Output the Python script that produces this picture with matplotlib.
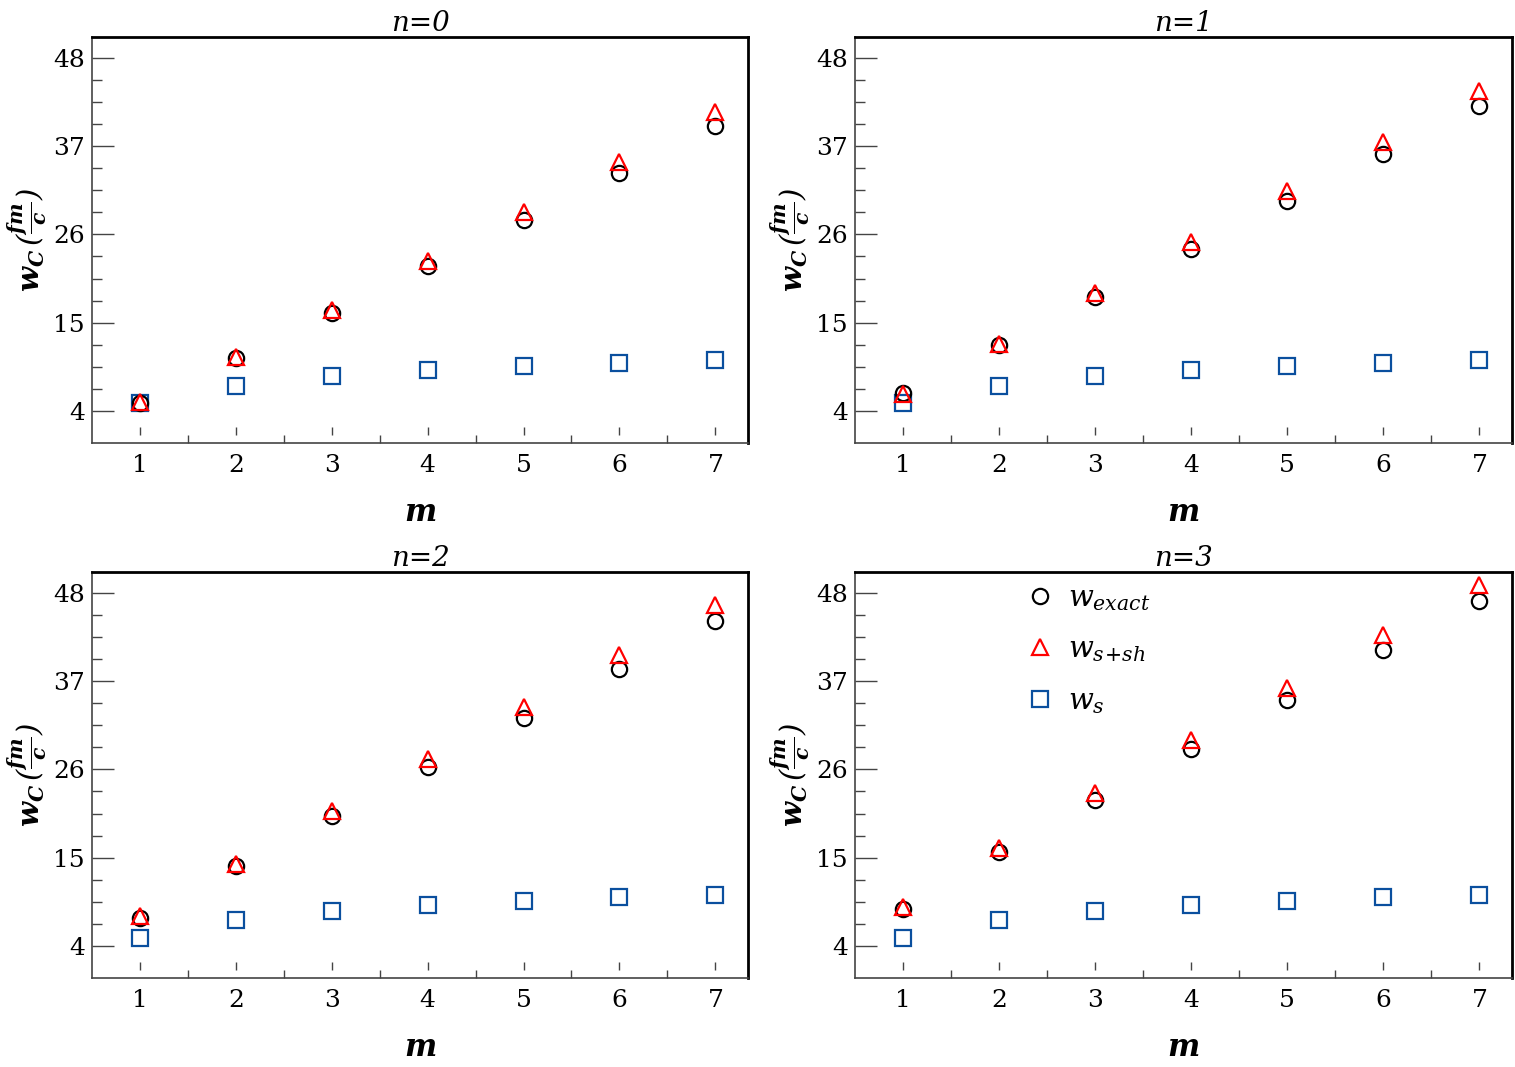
import matplotlib
matplotlib.use("Agg")
import matplotlib.pyplot as plt
from matplotlib.ticker import FixedLocator

plt.rcParams["font.family"] = "DejaVu Serif"
plt.rcParams["mathtext.fontset"] = "custom"
plt.rcParams["mathtext.rm"] = "DejaVu Serif:italic"
plt.rcParams["mathtext.it"] = "DejaVu Serif:italic"
plt.rcParams["mathtext.bf"] = "DejaVu Serif:italic:bold"

m = [1, 2, 3, 4, 5, 6, 7]
y_ticks = [4, 15, 26, 37, 48]
titles = ["n=0", "n=1", "n=2", "n=3"]

# w_exact
exact_n0 = [5.0, 10.6, 16.2, 22.1, 27.8, 33.7, 39.5]
exact_n1 = [6.2, 12.2, 18.2, 24.2, 30.2, 36.0, 42.0]
exact_n2 = [7.5, 14.0, 20.2, 26.3, 32.4, 38.5, 44.5]
exact_n3 = [8.6, 15.7, 22.2, 28.6, 34.7, 40.9, 47.0]

# w_s+sh
ssh_n0 = [5.1, 10.7, 16.6, 22.7, 28.8, 35.0, 41.3]
ssh_n1 = [6.1, 12.4, 18.7, 25.1, 31.4, 37.5, 43.9]
ssh_n2 = [7.7, 14.2, 20.8, 27.3, 33.8, 40.2, 46.5]
ssh_n3 = [8.9, 16.2, 23.1, 29.7, 36.2, 42.7, 49.0]

# w_s
s_n0 = [5.0, 7.1, 8.4, 9.1, 9.6, 10.0, 10.4]
s_n1 = [5.0, 7.1, 8.4, 9.1, 9.6, 10.0, 10.4]
s_n2 = [5.0, 7.2, 8.4, 9.1, 9.6, 10.1, 10.4]
s_n3 = [5.0, 7.2, 8.4, 9.1, 9.6, 10.1, 10.4]

exact_all = [exact_n0, exact_n1, exact_n2, exact_n3]
ssh_all = [ssh_n0, ssh_n1, ssh_n2, ssh_n3]
s_all = [s_n0, s_n1, s_n2, s_n3]

fig = plt.figure(figsize=(15.15, 10.67), dpi=100)

# eksen konumlari (sol, alt, genislik, yukseklik)
kutular = [
    (0.0607, 0.5848, 0.4330, 0.3805),
    (0.5644, 0.5848, 0.4336, 0.3805),
    (0.0607, 0.0834, 0.4330, 0.3805),
    (0.5644, 0.0834, 0.4336, 0.3805),
]

# ara tikler: sadece ana tikler arasinda
y_minor = []
for a, b in zip(y_ticks[:-1], y_ticks[1:]):
    adim = (b - a) / 4
    y_minor += [a + adim, a + 2 * adim, a + 3 * adim]
x_minor = [x + 0.5 for x in m[:-1]]

gri = "#444444"

for i, kutu in enumerate(kutular):
    ax = fig.add_axes(kutu)

    ax.plot(m, exact_all[i], linestyle="none", marker="o", markersize=11,
            markerfacecolor="none", markeredgecolor="black", markeredgewidth=1.6,
            label=r"$w_{exact}$", zorder=3)
    ax.plot(m, ssh_all[i], linestyle="none", marker="^", markersize=12,
            markerfacecolor="none", markeredgecolor="#ff0000", markeredgewidth=1.6,
            label=r"$w_{s\!+\!sh}$", zorder=4)
    ax.plot(m, s_all[i], linestyle="none", marker="s", markersize=11,
            markerfacecolor="none", markeredgecolor="#0a4f9e", markeredgewidth=1.6,
            label=r"$w_{s}$", zorder=2)

    ax.set_xlim(0.5, 7.34)
    ax.set_ylim(0.0, 50.6)
    ax.set_xticks(m)
    ax.set_yticks(y_ticks)
    ax.xaxis.set_minor_locator(FixedLocator(x_minor))
    ax.yaxis.set_minor_locator(FixedLocator(y_minor))

    ax.tick_params(axis="both", which="major", direction="in", labelsize=18,
                   color=gri, width=1.0)
    ax.tick_params(axis="y", which="major", length=16, pad=5)
    ax.tick_params(axis="y", which="minor", direction="in", length=7,
                   color=gri, width=1.0)
    # x ana tikleri eksenden ayri cizilecek
    ax.tick_params(axis="x", which="major", length=0, pad=8)
    ax.tick_params(axis="x", which="minor", direction="in", length=6,
                   color=gri, width=1.0)
    ax.vlines(m, 0.02, 0.04, transform=ax.get_xaxis_transform(),
              color=gri, linewidth=1.0, clip_on=False)

    for side in ["left", "bottom"]:
        ax.spines[side].set_color(gri)
        ax.spines[side].set_linewidth(1.2)
    for side in ["top", "right"]:
        ax.spines[side].set_color("black")
        ax.spines[side].set_linewidth(2.0)

    ax.set_title(titles[i], fontsize=20, style="italic", pad=3)
    ax.set_xlabel(r"$\mathbf{m}$", fontsize=22, labelpad=14)
    ax.set_ylabel(r"$\mathbf{w_C}\,(\frac{\mathbf{fm}}{\mathbf{c}})$", fontsize=21, labelpad=3)

    if i == 3:
        ax.legend(loc="upper left", bbox_to_anchor=(0.215, 1.035), frameon=False,
                  fontsize=21, handletextpad=0.35, labelspacing=0.78,
                  handlelength=1.2)

fig.savefig("out.png", dpi=100)
